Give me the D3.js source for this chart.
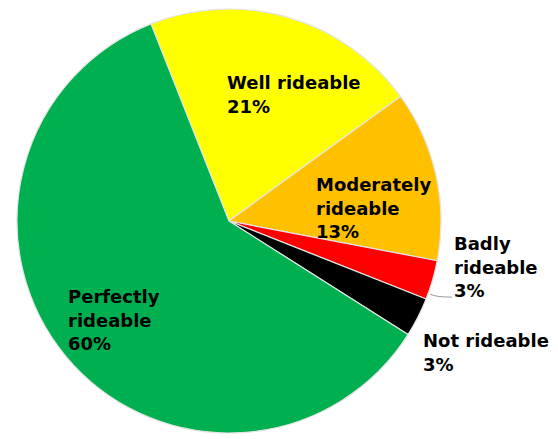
<!DOCTYPE html>
<html>
<head>
<meta charset="utf-8">
<script src="https://cdn.jsdelivr.net/npm/d3@7"></script>
<style>
  body { margin: 0; background: #fff; }
  text { font-family: "DejaVu Sans", sans-serif; font-weight: bold; font-size: 18px; fill: #000; }
</style>
</head>
<body>
<div id="chart"></div>
<script>
// DATA
var categories = ["Well rideable", "Moderately rideable", "Badly rideable", "Not rideable", "Perfectly rideable"];
var values = [21, 13, 3, 3, 60];
var colors = ["#ffff00", "#ffc000", "#ff0000", "#000000", "#00b050"];
// label lines as shown on the chart
var labelLines = [
  ["Well rideable", "21%"],
  ["Moderately", "rideable", "13%"],
  ["Badly", "rideable", "3%"],
  ["Not rideable", "3%"],
  ["Perfectly", "rideable", "60%"]
];

// LAYOUT
var w = 558, h = 439;
var cx = 229, cy = 221, r = 212;
// text start of first line, relative to the pie centre
var labelPos = [[-2, -132], [87, -30], [225, 29], [194, 126], [-161, 82]];
var lineH = 23.5;

var svg = d3.select("#chart")
  .append("svg")
  .attr("width", w)
  .attr("height", h);

var g = svg.append("g")
  .attr("transform", "translate(" + cx + "," + cy + ")");

var pie = d3.pie()
  .sort(null)
  .startAngle(-0.06 * 2 * Math.PI)
  .endAngle(0.94 * 2 * Math.PI);

var arc = d3.arc()
  .innerRadius(0)
  .outerRadius(r);

var arcs = pie(values);

// slices
g.selectAll("path.slice")
  .data(arcs)
  .enter()
  .append("path")
  .attr("class", "slice")
  .attr("d", arc)
  .attr("fill", function(d, i) { return colors[i]; })
  .attr("stroke", "#e4e4e4")
  .attr("stroke-width", 1.2)
  .attr("stroke-linejoin", "round");

// leader line for the small red slice, from its lower part to the label
var badArc = arcs[2];
var a = badArc.startAngle + 0.85 * (badArc.endAngle - badArc.startAngle);
var p0 = [Math.sin(a) * (r + 2), -Math.cos(a) * (r + 2)];
g.append("path")
  .attr("d", "M" + p0[0] + "," + p0[1] + " Q" + (p0[0] + 5) + "," + (p0[1] + 3) + " " + (labelPos[2][0] - 2) + "," + (p0[1] + 3))
  .attr("fill", "none")
  .attr("stroke", "#999")
  .attr("stroke-width", 1);

// labels
var labels = g.selectAll("text.lbl")
  .data(arcs)
  .enter()
  .append("text")
  .attr("class", "lbl")
  .attr("x", function(d, i) { return labelPos[i][0]; })
  .attr("y", function(d, i) { return labelPos[i][1]; });

labels.each(function(d, i) {
  var t = d3.select(this);
  labelLines[i].forEach(function(line, j) {
    t.append("tspan")
      .attr("x", labelPos[i][0])
      .attr("y", labelPos[i][1] + j * lineH)
      .text(line);
  });
});
</script>
</body>
</html>
